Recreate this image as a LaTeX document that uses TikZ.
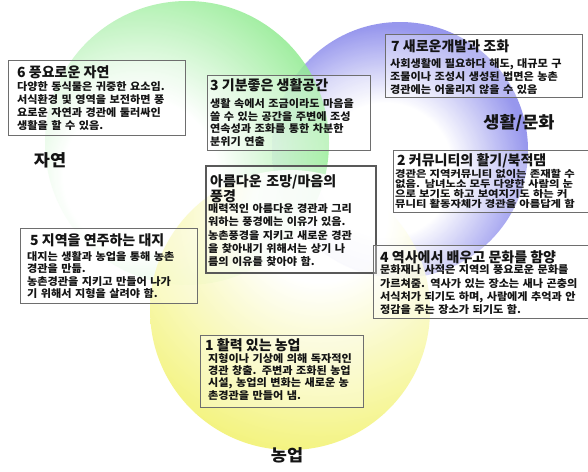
\documentclass[tikz,border=0pt]{standalone}
\usepackage{fontspec}
\newfontfamily\krt{Noto Sans CJK KR}
\newfontfamily\krb[FakeStretch=1.06]{Noto Sans CJK KR}
\newfontfamily\krc[FakeStretch=1.18]{Noto Sans CJK KR}
\definecolor{gcol}{RGB}{125,232,125}
\definecolor{pcol}{RGB}{140,140,236}
\definecolor{ycol}{RGB}{242,242,105}
\definecolor{boxgray}{RGB}{110,110,110}
\definecolor{txtcol}{RGB}{20,20,20}
\pgfdeclareradialshading{gshade}{\pgfpoint{0bp}{0bp}}{color(0bp)=(white); color(8bp)=(white); color(23bp)=(gcol); color(50bp)=(gcol)}
\pgfdeclareradialshading{pshade}{\pgfpoint{0bp}{0bp}}{color(0bp)=(white); color(7bp)=(white); color(15bp)=(pcol); color(50bp)=(pcol)}
\pgfdeclareradialshading{yshade}{\pgfpoint{0bp}{0bp}}{color(0bp)=(white); color(7bp)=(white); color(25bp)=(ycol); color(50bp)=(ycol)}
\begin{document}
\begin{tikzpicture}[x=1pt,y=-1pt,
  infobox/.style={draw=boxgray, line width=1.3pt, fill=white, fill opacity=0.3, inner sep=0pt, anchor=north west},
  ttltxt/.style={anchor=base west, inner sep=0pt, text=txtcol, font=\krt\bfseries\fontsize{14}{16}\selectfont},
  bodytxt/.style={anchor=base west, inner sep=0pt, text=txtcol, align=left, text width=240pt, font=\krb\bfseries\fontsize{10.5}{#1}\selectfont},
  regionlbl/.style={inner sep=0pt, text=txtcol, font=\krb\bfseries\fontsize{16.5}{18}\selectfont}]
\useasboundingbox (0,0) rectangle (588,471);
\fill[white] (0,0) rectangle (588,471);
% circles
\begin{scope}
  \clip (400,150) circle (128pt);
  \shade[shading=pshade, fill opacity=0.9] (385,170) circle (240pt);
\end{scope}
\begin{scope}
  \clip (187,143) circle (142pt);
  \shade[shading=gshade, fill opacity=0.85] (140,175) circle (240pt);
\end{scope}
\begin{scope}
  \clip (290,310) circle (140pt);
  \shade[shading=yshade, fill opacity=0.85] (320,215) circle (240pt);
\end{scope}
% region labels
\node[regionlbl] (lnat) at (50,160) {자연};
\node[regionlbl] (llife) at (519,123) {생활/문화};
\node[regionlbl] (lagri) at (287,455) {농업};
% box 6
\node[infobox, minimum width=177pt, minimum height=75pt] (b6) at (8,60) {};
\node[ttltxt] (t6) at ([shift={(9,17.4)}]b6.north west) {6 풍요로운 자연};
\node[bodytxt=13.3] (d6) at ([shift={(9,30)}]b6.north west) {다양한 동식물은 귀중한 요소임.\\서식환경 및 영역을 보전하면 풍\\요로운 자연과 경관에 둘러싸인\\생활을 할 수 있음.};
% box 3
\node[infobox, minimum width=163pt, minimum height=75pt] (b3) at (207,75) {};
\node[ttltxt] (t3) at ([shift={(3,15.4)}]b3.north west) {3 기분좋은 생활공간};
\node[bodytxt=12.8] (d3) at ([shift={(3,32.2)}]b3.north west) {생활 속에서 조금이라도 마음을\\쓸 수 있는 공간을 주변에 조성\\연속성과 조화를 통한 차분한\\분위기 연출};
% box 7
\node[infobox, minimum width=197pt, minimum height=63pt] (b7) at (385,34) {};
\node[ttltxt] (t7) at ([shift={(6,17.4)}]b7.north west) {7 새로운개발과 조화};
\node[bodytxt=13.3] (d7) at ([shift={(5,33.2)}]b7.north west) {사회생활에 필요하다 해도, 대규모 구\\조물이나 조성시 생성된 법면은 농촌\\경관에는 어울리지 않을 수 있음};
% box 2
\node[infobox, minimum width=205pt, minimum height=62pt] (b2) at (393,150) {};
\node[ttltxt] (t2) at ([shift={(4,15.4)}]b2.north west) {2 커뮤니티의 활기/북적댐};
\node[bodytxt=10.1, font=\krc\bfseries\fontsize{9.6}{10.1}\selectfont] (d2) at ([shift={(2,27.2)}]b2.north west) {경관은 지역커뮤니티 없이는 존재할 수\\없음. 남녀노소 모두 다양한 사람의 눈\\으로 보기도 하고 보여지기도 하는 커\\뮤니티 활동자체가 경관을 아름답게 함};
% middle box
\node[infobox, draw=gray!70!black, line width=2.4pt, minimum width=170pt, minimum height=107pt] (bm) at (205,165) {};
\node[ttltxt, align=left, text width=165pt, font=\krt\bfseries\fontsize{14}{13}\selectfont] (tm) at ([shift={(5,21.4)}]bm.north west) {아름다운 조망/마음의\\풍경};
\node[bodytxt=13.3] (dm) at ([shift={(3,47.4)}]bm.north west) {매력적인 아름다운 경관과 그리\\워하는 풍경에는 이유가 있음.\\농촌풍경을 지키고 새로운 경관\\을 찾아내기 위해서는 상기 나\\름의 이유를 찾아야 함.};
% box 5
\node[infobox, minimum width=177pt, minimum height=75pt] (b5) at (20,228) {};
\node[ttltxt] (t5) at ([shift={(10,17.4)}]b5.north west) {5 지역을 연주하는 대지};
\node[bodytxt=12.2] (d5) at ([shift={(7,32.6)}]b5.north west) {대지는 생활과 농업을 통해 농촌\\경관을 만듦.\\농촌경관을 지키고 만들어 나가\\기 위해서 지형을 살려야 함.};
% box 4
\node[infobox, minimum width=225pt, minimum height=73pt] (b4) at (373,245) {};
\node[ttltxt] (t4) at ([shift={(7,17)}]b4.north west) {4 역사에서 배우고 문화를 함양};
\node[bodytxt=13.3] (d4) at ([shift={(7,28.9)}]b4.north west) {문화재나 사적은 지역의 풍요로운 문화를\\가르쳐줌. 역사가 있는 장소는 새나 곤충의\\서식처가 되기도 하며, 사람에게 추억과 안\\정감을 주는 장소가 되기도 함.};
% box 1
\node[infobox, minimum width=163pt, minimum height=72pt] (b1) at (200,335) {};
\node[ttltxt] (t1) at ([shift={(5,15.4)}]b1.north west) {1 활력 있는 농업};
\node[bodytxt=12.3] (d1) at ([shift={(8,27.2)}]b1.north west) {지형이나 기상에 의해 독자적인\\경관 창출. 주변과 조화된 농업\\시설, 농업의 변화는 새로운 농\\촌경관을 만들어 냄.};
\end{tikzpicture}
\end{document}
